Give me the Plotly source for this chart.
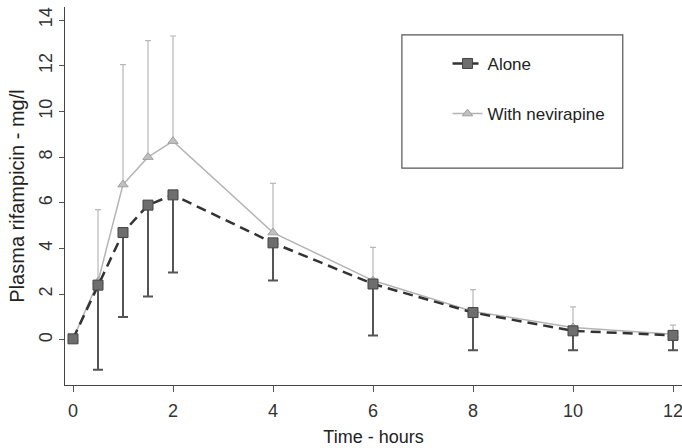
import plotly.graph_objects as go

# Data
time_h = [0, 0.5, 1, 1.5, 2, 4, 6, 8, 10, 12]
alone_mean = [0.05, 2.4, 4.7, 5.9, 6.35, 4.25, 2.45, 1.2, 0.4, 0.2]
alone_sd_down = [0, 3.7, 3.7, 4.0, 3.4, 1.65, 2.25, 1.65, 0.85, 0.65]
nev_mean = [0.05, 2.55, 6.8, 8.0, 8.7, 4.7, 2.6, 1.25, 0.55, 0.25]
nev_sd_up = [0, 3.15, 5.25, 5.1, 4.6, 2.15, 1.45, 0.95, 0.9, 0.4]
x_ticks = [0, 2, 4, 6, 8, 10, 12]
y_ticks = [0, 2, 4, 6, 8, 10, 12, 14]

FONT = "Liberation Sans, Arial, sans-serif"

fig = go.Figure()

fig.add_trace(go.Scatter(
    x=time_h, y=nev_mean, name="With nevirapine", mode="lines+markers",
    legendgroup="nev", legendrank=2,
    line=dict(color="#b4b4b4", width=1.5),
    marker=dict(symbol="triangle-up", size=9, color="#c0c0c0",
                line=dict(color="#a0a0a0", width=1)),
    error_y=dict(type="data", symmetric=False, array=nev_sd_up,
                 arrayminus=[0] * len(nev_sd_up), color="#b8b8b8",
                 thickness=1.2, width=3),
))

fig.add_trace(go.Scatter(
    x=time_h, y=alone_mean, name="Alone", mode="lines+markers",
    legendgroup="alone", legendrank=1,
    line=dict(color="#333333", width=2.5, dash="10px,6px"),
    marker=dict(symbol="square", size=10, color="#6e6e6e",
                line=dict(color="#444444", width=1)),
    error_y=dict(type="data", symmetric=False, array=[0] * len(alone_sd_down),
                 arrayminus=alone_sd_down, color="#555555",
                 thickness=2, width=5),
))

fig.update_layout(
    width=682, height=448,
    margin=dict(l=65, r=0, t=7, b=63, autoexpand=False),
    paper_bgcolor="white", plot_bgcolor="white",
    font=dict(family=FONT, color="#333333", size=18),
    showlegend=True,
    legend=dict(
        x=0.62, y=0.897, xanchor="left", yanchor="top",
        bgcolor="rgba(0,0,0,0)", borderwidth=0,
        font=dict(size=17, color="#222222", family=FONT),
        traceorder="grouped", tracegroupgap=25,
    ),
    shapes=[dict(type="rect", xref="paper", yref="paper",
                 x0=0.546, x1=0.904, y0=0.574, y1=0.926,
                 line=dict(color="#555555", width=1.2))],
)

fig.update_xaxes(
    range=[-0.16, 12.18], tickvals=x_ticks, ticks="outside", ticklen=6,
    tickcolor="#555555", showline=True, linecolor="#444444", linewidth=1.2,
    showgrid=False, zeroline=False, tickfont=dict(size=18, color="#333333"),
    ticklabelstandoff=3, ticklabeloverflow="allow",
    title=dict(text="Time - hours", font=dict(size=18, color="#222222"), standoff=10),
)
fig.update_yaxes(
    range=[-1.97, 14.57], tickvals=y_ticks, ticks="outside", ticklen=5,
    tickcolor="#555555", showline=True, linecolor="#444444", linewidth=1.2,
    showgrid=False, zeroline=False, tickangle=-90,
    tickfont=dict(size=18, color="#333333"), ticklabeloverflow="allow",
    title=dict(text="Plasma rifampicin - mg/l", font=dict(size=20, color="#222222"), standoff=5),
)

fig.write_html("out.html", config={"displayModeBar": False},
               post_script="document.body.style.margin='0';document.body.style.padding='0';")
